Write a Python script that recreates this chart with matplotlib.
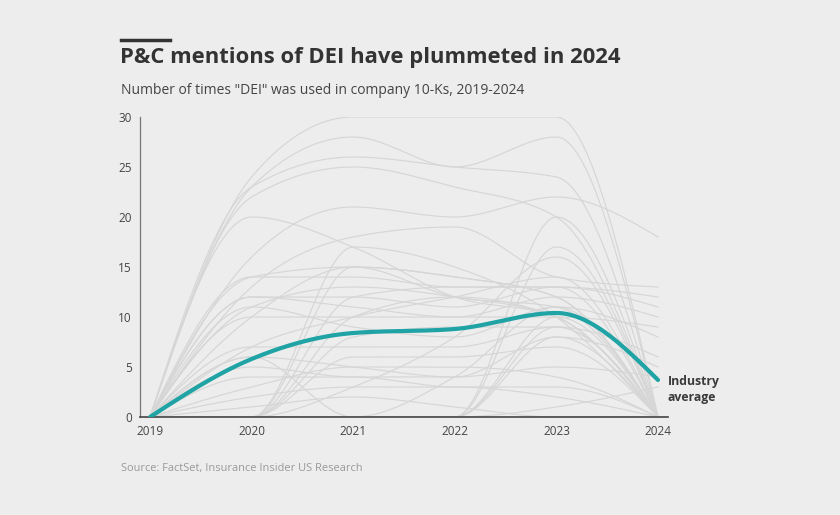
import numpy as np
import matplotlib
matplotlib.use("Agg")
import matplotlib.pyplot as plt

plt.rcParams['font.family'] = ['Open Sans', 'DejaVu Sans']

years = [2019, 2020, 2021, 2022, 2023, 2024]

# one row per company, mentions per year
companies = [
    [0, 24, 30, 30, 30, 0],
    [0, 23, 28, 25, 28, 0],
    [0, 23, 26, 25, 24, 0],
    [0, 22, 25, 23, 20, 0],
    [0, 20, 17, 12, 10, 0],
    [0, 16, 21, 20, 22, 18],
    [0, 13, 18, 19, 14, 13],
    [0, 14, 14, 13, 13, 12],
    [0, 14, 15, 12, 11, 0],
    [0, 12, 12, 11, 13, 11],
    [0, 12, 11, 10, 12, 10],
    [0, 11, 13, 12, 10, 0],
    [0, 10, 10, 10, 10, 9],
    [0, 11, 9, 8, 11, 8],
    [0, 10, 15, 14, 12, 0],
    [0, 7, 10, 12, 14, 0],
    [0, 7, 7, 7, 9, 6],
    [0, 6, 5, 4, 8, 0],
    [0, 5, 4, 4, 5, 4],
    [0, 4, 4, 3, 3, 0],
    [0, 3, 5, 5, 4, 0],
    [0, 2, 3, 3, 2, 0],
    [0, 1, 2, 1, 0, 0],
    [0, 0, 17, 15, 10, 0],
    [0, 0, 15, 14, 12, 0],
    [0, 0, 12, 13, 13, 0],
    [0, 0, 10, 12, 10, 0],
    [0, 0, 8, 9, 9, 0],
    [0, 0, 6, 6, 7, 0],
    [0, 0, 3, 8, 16, 0],
    [0, 6, 0, 4, 11, 0],
    [0, 0, 0, 0, 17, 0],
    [0, 0, 0, 0, 20, 0],
    [0, 0, 0, 0, 10, 0],
    [0, 0, 0, 0, 9, 0],
    [0, 0, 0, 0, 8, 5],
    [0, 0, 0, 0, 1, 3],
]

industry_avg = [0, 5.8, 8.4, 8.8, 10.4, 3.7]

y_ticks = [0, 5, 10, 15, 20, 25, 30]


def monotone_curve(x, y, n=40):
    # same idea as d3 curveMonotoneX
    x = np.asarray(x, float)
    y = np.asarray(y, float)
    m = len(x)
    h = np.diff(x)
    s = np.diff(y) / h
    t = np.zeros(m)
    for i in range(1, m - 1):
        p = (s[i - 1] * h[i] + s[i] * h[i - 1]) / (h[i - 1] + h[i])
        t[i] = (np.sign(s[i - 1]) + np.sign(s[i])) * min(abs(s[i - 1]), abs(s[i]), 0.5 * abs(p))
    t[0] = (3 * s[0] - t[1]) / 2
    t[-1] = (3 * s[-1] - t[-2]) / 2
    xs, ys = [], []
    u = np.linspace(0, 1, n)
    for i in range(m - 1):
        dx = h[i] / 3
        px = [x[i], x[i] + dx, x[i + 1] - dx, x[i + 1]]
        py = [y[i], y[i] + dx * t[i], y[i + 1] - dx * t[i + 1], y[i + 1]]
        b = [(1 - u) ** 3, 3 * u * (1 - u) ** 2, 3 * u ** 2 * (1 - u), u ** 3]
        xs.append(sum(bb * pp for bb, pp in zip(b, px)))
        ys.append(sum(bb * pp for bb, pp in zip(b, py)))
    return np.concatenate(xs), np.concatenate(ys)


bg = "#ededed"
fig = plt.figure(figsize=(8.4, 5.15), dpi=100, facecolor=bg)
ax = fig.add_axes([140 / 840, 1 - 417 / 515, 528 / 840, 300 / 515])
ax.set_facecolor(bg)

for row in companies:
    cx, cy = monotone_curve(years, row)
    ax.plot(cx, cy, color="#d6d6d6", lw=0.85, zorder=2)

ax_x, ax_y = monotone_curve(years, industry_avg)
ax.plot(ax_x, ax_y, color="#1fa3a4", lw=3, solid_capstyle="round", zorder=3)

pad = 10 / 101.6
ax.set_xlim(years[0] - pad, years[-1] + pad)
ax.set_ylim(0, 30)
ax.set_xticks(years)
ax.set_yticks(y_ticks)
ax.tick_params(length=0, labelsize=8.5, labelcolor="#444444", pad=6)
for sp in ["top", "right"]:
    ax.spines[sp].set_visible(False)
ax.spines["left"].set_color("#777777")
ax.spines["left"].set_linewidth(0.9)
ax.spines["bottom"].set_color("#444444")
ax.spines["bottom"].set_linewidth(1.2)

ax.annotate("Industry\naverage", (years[-1], industry_avg[-1]), xytext=(7, -7),
            textcoords="offset points", fontsize=8.8, fontweight="bold", color="#3a3a3a",
            va="center", ha="left", linespacing=1.35)

fig.add_artist(plt.Line2D([121 / 840, 170 / 840], [1 - 40 / 515] * 2, color="#333333", lw=2.5))
fig.text(120 / 840, 1 - 58 / 515, "P&C mentions of DEI have plummeted in 2024", fontsize=15.8,
         fontweight="bold", color="#333333", va="center", ha="left")
fig.text(121 / 840, 1 - 90 / 515, 'Number of times "DEI" was used in company 10-Ks, 2019-2024',
         fontsize=10, color="#444444", va="center", ha="left")
fig.text(121 / 840, 1 - 468 / 515, "Source: FactSet, Insurance Insider US Research",
         fontsize=7.9, color="#999999", va="center", ha="left")

fig.savefig("out.png", dpi=100, facecolor=bg)
